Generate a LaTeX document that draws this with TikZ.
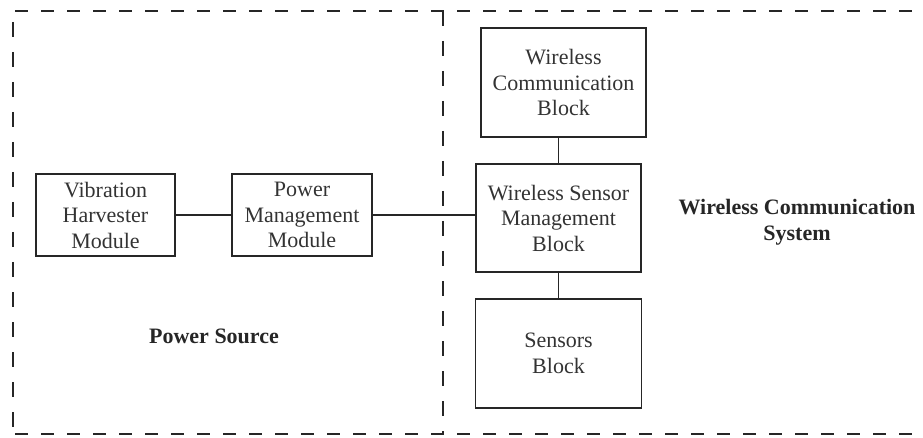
\documentclass[tikz,border=0pt]{standalone}
\usepackage{fontspec}
\setmainfont{Liberation Serif}
\usepackage{tikz}

\begin{document}
\begin{tikzpicture}[x=1pt,y=-1pt,
    block/.style={draw=black!85,text=black!80,line width=1.8pt,align=center,inner sep=0pt,
        font=\fontsize{22}{25.5}\selectfont},
    link/.style={draw=black!85,line width=1.6pt},
    zoneh/.style={draw=black!85,line width=1.8pt,dash pattern=on 13pt off 13pt},
    zonev/.style={draw=black!85,line width=1.8pt,dash pattern=on 15pt off 15pt},
    title/.style={text=black!85,align=center,font=\fontsize{22}{26}\selectfont\bfseries}]
    \useasboundingbox (0,0) rectangle (923,438);

    % dashed frame
    \draw[zoneh] (15,11) -- (923,11);
    \draw[zoneh] (15,434) -- (923,434);
    \draw[zonev] (13,22) -- (13,434);
    \draw[zonev] (443,11) -- (443,434);

    % power source side
    \node[block,minimum width=139,minimum height=82] (vib) at (105.5,215) {Vibration\\Harvester\\Module};
    \node[block,minimum width=140,minimum height=82] (pmm) at (302,215) {Power\\Management\\Module};
    \node[title] (ps) at (214,336) {Power Source};

    % wireless side
    \node[block,minimum width=165,minimum height=109] (wcb) at (563.5,82.5) {Wireless\\Communication\\Block};
    \node[block,minimum width=165,minimum height=108] (wsm) at (558.5,218) {Wireless Sensor\\Management\\Block};
    \node[block,minimum width=166,minimum height=109] (sen) at (558.5,353.5) {Sensors\\Block};
    \node[title] (wcs) at (797,222) {Wireless Communication\\System};

    \draw[link] (vib) -- (pmm);
    \draw[link] (pmm.east) -- (pmm.east -| wsm.west);
    \draw[link] (wsm.north) -- (wsm.north |- wcb.south);
    \draw[link] (wsm.south) -- (sen.north);
\end{tikzpicture}
\end{document}
